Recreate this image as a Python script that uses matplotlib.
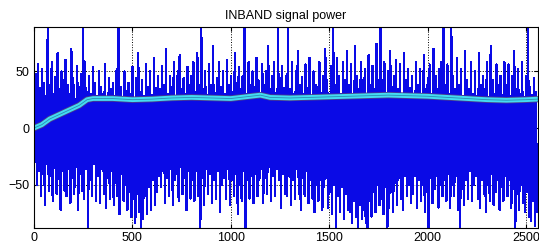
"""INBAND signal power: raw signal with smoothed power on top"""

import numpy as np
import matplotlib
matplotlib.use("Agg")
import matplotlib.pyplot as plt

plt.rcParams['font.family'] = ['Liberation Sans', 'DejaVu Sans']

# local maxima of the raw signal, one every 10 samples
peaks = [
	30, 48, 56, 35, 52, 40, 28, 92, 38, 58, 30, 45, 66, 34, 50, 42,
	60, 38, 30, 70, 44, 26, 55, 36, 48, 92, 58, 32, 46, 30, 54, 40,
	28, 50, 36, 30, 56, 25, 44, 34, 40, 28, 52, 95, 36, 27, 50, 33,
	40, 30, 54, 26, 44, 66, 32, 42, 28, 56, 36, 50, 29, 62, 35, 46,
	34, 55, 38, 70, 30, 46, 36, 58, 28, 50, 64, 34, 44, 30, 54, 38,
	46, 58, 32, 66, 38, 92, 34, 50, 29, 56, 38, 72, 31, 44, 58, 36,
	50, 30, 60, 38, 46, 32, 66, 40, 54, 34, 46, 95, 30, 58, 38, 50,
	36, 62, 42, 30, 56, 38, 50, 72, 34, 46, 58, 31, 92, 44, 55, 35,
	46, 92, 34, 58, 30, 50, 68, 38, 45, 30, 56, 35, 62, 28, 50, 38,
	36, 58, 31, 46, 70, 42, 30, 55, 95, 38, 62, 46, 30, 58, 42, 68,
	38, 56, 30, 72, 46, 34, 58, 42, 52, 30, 64, 38, 55, 34, 74, 42,
	95, 42, 58, 30, 50, 68, 36, 46, 60, 34, 56, 29, 66, 42, 52, 35,
	46, 30, 58, 38, 52, 28, 64, 34, 44, 56, 30, 70, 46, 34, 52, 58,
	95, 38, 56, 30, 92, 46, 34, 62, 38, 52, 28, 68, 42, 34, 58, 30,
	50, 28, 66, 38, 46, 34, 58, 27, 72, 42, 30, 56, 38, 46, 29, 58,
	38, 56, 28, 46, 68, 34, 52, 30, 58, 27, 46, 95, 36, 29, 44, 32,
]

# local minima, shifted 5 samples from the maxima
troughs = [
	-30, -50, -38, -60, -40, -68, -32, -55, -42, -64, -35, -58, -45, -72, -38, -55,
	-60, -36, -66, -44, -58, -34, -72, -40, -55, -62, -36, -95, -46, -60, -32, -64,
	-42, -66, -36, -58, -70, -44, -62, -38, -68, -48, -60, -76, -40, -64, -50, -72,
	-56, -78, -62, -84, -58, -74, -95, -80, -60, -76, -52, -72, -46, -68, -56, -42,
	-52, -38, -66, -44, -60, -36, -68, -46, -40, -64, -34, -58, -44, -72, -38, -62,
	-46, -64, -38, -60, -95, -44, -68, -36, -58, -40, -66, -46, -62, -38, -74, -50,
	-44, -62, -36, -68, -46, -60, -40, -76, -50, -64, -38, -95, -46, -62, -42, -66,
	-40, -60, -46, -36, -66, -44, -58, -34, -64, -42, -60, -36, -46, -70, -40, -58,
	-60, -42, -68, -46, -62, -36, -58, -72, -44, -60, -38, -66, -46, -62, -74, -50,
	-64, -46, -72, -52, -44, -70, -56, -76, -50, -95, -60, -74, -52, -80, -58, -72,
	-74, -84, -64, -78, -88, -68, -80, -72, -84, -95, -64, -78, -56, -74, -50, -68,
	-62, -76, -52, -95, -70, -56, -74, -48, -68, -44, -62, -72, -42, -60, -50, -66,
	-58, -42, -70, -46, -64, -50, -74, -56, -95, -44, -66, -54, -42, -70, -50, -60,
	-46, -64, -40, -70, -50, -60, -42, -72, -95, -54, -68, -46, -62, -38, -64, -50,
	-42, -62, -70, -46, -58, -74, -50, -64, -40, -68, -56, -46, -72, -52, -64, -42,
	-60, -46, -70, -54, -95, -58, -72, -50, -66, -74, -56, -78, -82, -64, -86, -74,
]

# smoothed power curve
power_x = [0, 40, 80, 130, 180, 230, 270, 300, 400, 500, 600, 700, 800, 900,
	1000, 1100, 1150, 1200, 1300, 1400, 1500, 1600, 1700, 1800, 1900, 2000,
	2100, 2200, 2300, 2400, 2500, 2560]
power_y = [0, 3, 8, 12, 16, 20, 25, 26, 26, 25, 25.5, 26.5, 27, 26.5,
	26, 28, 29, 27, 26.5, 27, 27.5, 28, 28.5, 29, 28.5, 28,
	27, 26, 25, 24.5, 25, 25.5]

xticks = [0, 500, 1000, 1500, 2000, 2500]
yticks = [-50, 0, 50]


if __name__ == "__main__":

	# interleave maxima and minima into one sample sequence
	n = len(peaks)
	sig_x = np.empty(2 * n)
	sig_y = np.empty(2 * n)
	sig_x[0::2] = np.arange(n) * 10
	sig_x[1::2] = np.arange(n) * 10 + 5
	sig_y[0::2] = peaks
	sig_y[1::2] = troughs

	fig = plt.figure(figsize=(5.39, 2.5), dpi=100)
	ax = fig.add_axes([0.063, 0.088, 0.935, 0.804])

	ax.plot(sig_x, sig_y, color="#0a0ae6", lw=0.9, antialiased=False)

	# cyan band with dark edges and a thin centre line
	ax.plot(power_x, power_y, color="#4a3c8c", lw=4.6, solid_capstyle="butt")
	ax.plot(power_x, power_y, color="#44dcf2", lw=3.4, solid_capstyle="butt")
	ax.plot(power_x, power_y, color="#2a8cb4", lw=0.6)

	ax.set_xlim(0, 2560)
	ax.set_ylim(-88, 89)
	ax.set_xticks(xticks)
	ax.set_yticks(yticks)
	ax.tick_params(direction="in", length=3, labelsize=9, top=True, right=True, pad=3)
	ax.grid(True, color="black", linestyle=":", linewidth=0.7)
	ax.set_axisbelow(True)
	for s in ax.spines.values():
		s.set_linewidth(0.8)

	ax.set_title("INBAND signal power", fontsize=9, pad=6)

	plt.savefig("out.png", dpi=100)
